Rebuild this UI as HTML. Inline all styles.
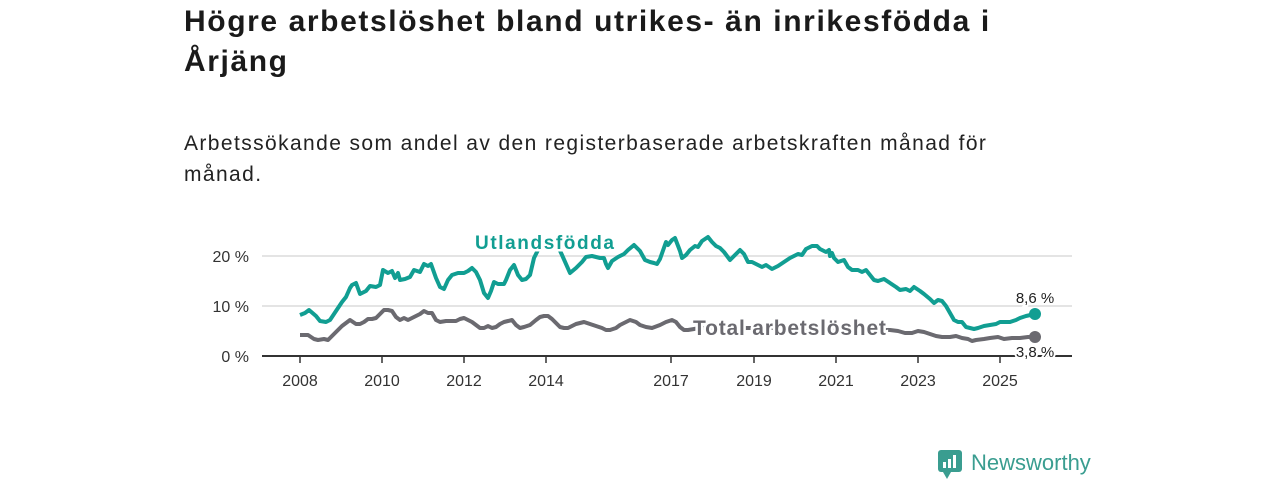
<!DOCTYPE html>
<html><head><meta charset="utf-8"><style>
body{margin:0;width:1280px;height:480px;background:#fff;font-family:"Liberation Sans","DejaVu Sans",sans-serif;overflow:hidden;position:relative;color:#1a1a1a}
h1{position:absolute;left:184px;top:2px;margin:0;font-size:30px;line-height:40px;font-weight:bold;width:830px;letter-spacing:1.6px}
.sub{position:absolute;left:184px;top:128px;font-size:21px;line-height:31px;width:840px;color:#222;letter-spacing:1.4px}
</style></head><body>
<h1>Högre arbetslöshet bland utrikes- än inrikesfödda i Årjäng</h1>
<div class="sub">Arbetssökande som andel av den registerbaserade arbetskraften månad för månad.</div>
<svg width="1280" height="480" style="position:absolute;left:0;top:0" font-family="Liberation Sans, DejaVu Sans, sans-serif">
<g stroke="#dcdcdc" stroke-width="1.5"><line x1="262" y1="256" x2="1072" y2="256"/><line x1="262" y1="306" x2="1072" y2="306"/></g>
<g font-size="16" fill="#333" text-anchor="end"><text x="249" y="262">20 %</text><text x="249" y="312">10 %</text><text x="249" y="362">0 %</text></g>
<g stroke="#333" stroke-width="1.5"><line x1="300" y1="356" x2="300" y2="363"/><line x1="382" y1="356" x2="382" y2="363"/><line x1="464" y1="356" x2="464" y2="363"/><line x1="546" y1="356" x2="546" y2="363"/><line x1="671" y1="356" x2="671" y2="363"/><line x1="754" y1="356" x2="754" y2="363"/><line x1="836" y1="356" x2="836" y2="363"/><line x1="918" y1="356" x2="918" y2="363"/><line x1="1000" y1="356" x2="1000" y2="363"/></g>
<g font-size="16" fill="#333" text-anchor="middle"><text x="300" y="386">2008</text><text x="382" y="386">2010</text><text x="464" y="386">2012</text><text x="546" y="386">2014</text><text x="671" y="386">2017</text><text x="754" y="386">2019</text><text x="836" y="386">2021</text><text x="918" y="386">2023</text><text x="1000" y="386">2025</text></g>
<polyline fill="none" stroke="#6b6a70" stroke-width="4" stroke-linejoin="round" points="300,335 305,335 308,335 314,339 318,340 324,339 328,340 332,336 336,332 342,326 346,323 350,320 356,324 360,324 364,322 368,319 372,319 376,318 380,314 384,310 388,310 392,311 396,317 400,320 404,318 408,320 412,318 416,316 420,314 424,311 428,313 432,313 436,320 440,322 446,321 452,321 456,321 460,319 464,318 468,320 472,322 476,325 480,328 484,328 488,326 492,328 496,327 500,324 504,322 508,321 512,320 516,325 520,328 524,327 530,325 536,320 540,317 544,316 548,316 552,319 556,323 560,327 564,328 568,328 572,326 576,324 580,323 584,322 590,324 596,326 602,328 606,330 610,330 616,328 620,325 626,322 630,320 636,322 640,325 646,327 652,328 660,325 666,322 672,320 676,322 680,327 684,330 688,330 700,328 800,328 890,330 898,331 905,333 912,333 918,331 924,332 930,334 936,336 942,337 950,337 956,336 962,338 968,339 972,341 976,340 984,339 990,338 998,337 1004,339 1012,338 1020,338 1028,337 1035,337"/>
<polyline fill="none" stroke="#119e92" stroke-width="4" stroke-linejoin="round" points="300,315 305,313 309,310 316,316 320,321 326,322 330,320 336,311 342,302 346,297 350,288 352,285 356,283 360,294 366,291 370,286 376,287 380,285 383,270 388,273 392,271 395,278 398,273 400,280 405,279 410,277 414,270 420,272 424,264 428,266 431,264 436,278 440,287 444,289 448,280 452,275 458,273 464,273 468,271 472,268 476,272 480,280 484,293 488,298 491,291 494,282 498,284 504,284 506,280 510,270 514,265 518,275 522,280 526,279 530,275 534,258 538,250 545,240 555,240 562,255 570,273 576,268 582,262 586,257 592,256 600,258 604,258 606,264 608,268 612,261 618,257 624,254 628,250 634,245 640,251 645,260 650,262 654,263 657,264 660,259 666,242 668,245 672,240 675,238 680,251 682,258 686,255 690,250 695,246 698,247 702,241 708,237 712,242 716,246 720,248 724,252 730,260 734,256 740,250 744,254 748,262 752,262 756,264 762,267 766,265 772,269 778,266 784,262 790,258 794,256 798,254 802,255 806,249 812,246 817,246 820,249 826,252 829,250 830,256 832,253 834,258 838,262 844,260 848,267 852,270 858,270 862,272 866,270 870,275 874,280 878,281 884,279 890,283 896,287 900,290 906,289 910,291 914,287 920,291 924,294 930,299 934,303 938,300 942,301 946,306 950,313 954,320 958,322 962,322 966,327 970,328 974,329 978,328 984,326 990,325 996,324 1000,322 1005,322 1010,322 1016,320 1020,318 1026,316 1035,314"/>
<text x="475" y="249" font-size="19" font-weight="bold" fill="#119e92" stroke="#fff" stroke-width="5" paint-order="stroke" letter-spacing="1.6">Utlandsfödda</text>
<text x="693" y="335" font-size="21" font-weight="bold" fill="#6b6a70" stroke="#fff" stroke-width="5" paint-order="stroke" letter-spacing="0.8">Total arbetslöshet</text>
<line x1="262" y1="356" x2="1072" y2="356" stroke="#333" stroke-width="2"/>
<circle cx="1035" cy="314" r="6" fill="#119e92"/>
<circle cx="1035" cy="337" r="6" fill="#6b6a70"/>
<g font-size="15" fill="#222" stroke="#fff" stroke-width="4" paint-order="stroke" text-anchor="middle"><text x="1035" y="303">8,6 %</text><text x="1035" y="357">3,8 %</text></g>
<g transform="translate(938,450)"><rect x="0" y="0" width="24" height="22" rx="3" fill="#3a9d90"/><path d="M5 22 L9 29 L13 22Z" fill="#3a9d90"/><rect x="5" y="12" width="3" height="6" fill="#fff"/><rect x="10" y="9" width="3" height="9" fill="#fff"/><rect x="15" y="5" width="3" height="13" fill="#fff"/></g>
<text x="971" y="470" font-size="22" fill="#3a9d90">Newsworthy</text>
</svg>
</body></html>
